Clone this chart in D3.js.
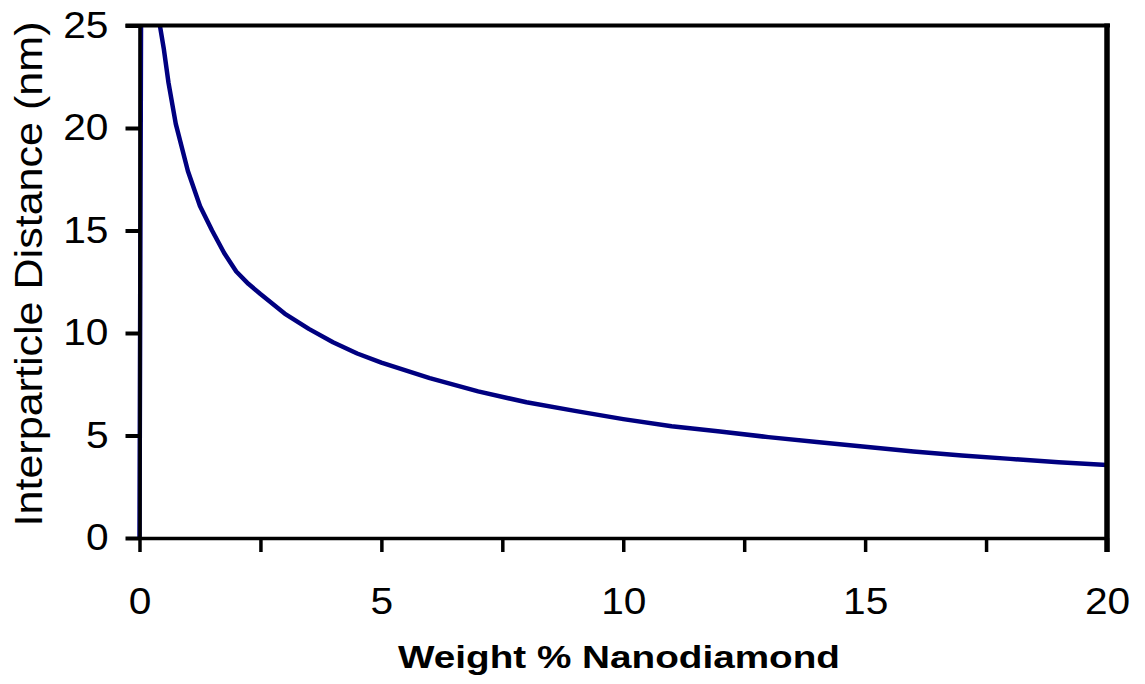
<!DOCTYPE html>
<html>
<head>
<meta charset="utf-8">
<script src="https://cdn.jsdelivr.net/npm/d3@7"></script>
<style>
  html, body { margin: 0; padding: 0; background: #fff; }
  svg { display: block; }
</style>
</head>
<body>
<svg id="chart" width="1145" height="684"></svg>
<script>
// ---- data ----
const weightPct = [0, 0.1, 0.4, 0.5, 0.6, 0.75, 1, 1.25, 1.5, 1.75, 2, 2.25, 2.5, 3, 3.5, 4, 4.5, 5, 6, 7, 8, 9, 10, 11, 12, 13, 14, 15, 16, 17, 18, 19, 20];
const distance  = [0, 80, 25.3, 23.9, 22.2, 20.2, 17.9, 16.2, 15.0, 13.9, 13.0, 12.4, 11.9, 10.95, 10.2, 9.55, 9.0, 8.55, 7.8, 7.15, 6.62, 6.2, 5.8, 5.45, 5.2, 4.92, 4.68, 4.45, 4.22, 4.02, 3.86, 3.7, 3.56];
const xTicks = [0, 2.5, 5, 7.5, 10, 12.5, 15, 17.5, 20];
const xTickLabels = ["0", "", "5", "", "10", "", "15", "", "20"];
const yTicks = [0, 5, 10, 15, 20, 25];
const yTickLabels = ["0", "5", "10", "15", "20", "25"];
const xTitle = "Weight % Nanodiamond";
const yTitle = "Interparticle Distance (nm)";

(function () {
const svg = d3.select("#chart");
const mLeft = 139.5, mRight = 1107, mTop = 25.5, mBottom = 538;

const x = d3.scaleLinear().domain([0, 20]).range([mLeft, mRight]);
const y = d3.scaleLinear().domain([0, 25]).range([mBottom, mTop]);

const font = "'Liberation Sans', Arial, sans-serif";

// clip
svg.append("defs").append("clipPath").attr("id", "plotClip")
  .append("rect").attr("x", mLeft - 3).attr("y", mTop).attr("width", mRight - mLeft + 3).attr("height", mBottom - mTop + 3);

// curve
const pts = weightPct.map((w, i) => [w, distance[i]]);
svg.append("path")
  .datum(pts)
  .attr("clip-path", "url(#plotClip)")
  .attr("fill", "none")
  .attr("stroke", "#000080")
  .attr("stroke-width", 4.5)
  .attr("stroke-linejoin", "round")
  .attr("d", d3.line().x(d => x(d[0])).y(d => y(d[1])));

function widen(sel, f) {
  sel.each(function () {
    const w = this.getComputedTextLength();
    if (w > 0) d3.select(this).attr("textLength", w * f).attr("lengthAdjust", "spacingAndGlyphs");
  });
}

// x axis
const xAxis = svg.append("g")
  .attr("transform", `translate(0,${mBottom})`)
  .call(d3.axisBottom(x).tickValues(xTicks).tickSize(14).tickSizeOuter(0).tickPadding(36)
        .tickFormat((d, i) => xTickLabels[i]));
xAxis.select(".domain").attr("stroke", "#000").attr("stroke-width", 3.5);
xAxis.selectAll(".tick line").attr("stroke", "#000").attr("stroke-width", 3.5);
xAxis.selectAll(".tick text").attr("font-family", font).attr("font-size", 37).attr("fill", "#000");
widen(xAxis.selectAll(".tick text"), 1.1);

// y axis
const yAxis = svg.append("g")
  .attr("transform", `translate(${mLeft},0)`)
  .call(d3.axisLeft(y).tickValues(yTicks).tickSize(14).tickSizeOuter(0).tickPadding(17)
        .tickFormat((d, i) => yTickLabels[i]));
yAxis.select(".domain").attr("stroke", "#000").attr("stroke-width", 3.5);
yAxis.selectAll(".tick line").attr("stroke", "#000").attr("stroke-width", 4);
yAxis.selectAll(".tick text").attr("font-family", font).attr("font-size", 37).attr("fill", "#000");
widen(yAxis.selectAll(".tick text"), 1.1);

// top and right frame
svg.append("line").attr("x1", mLeft - 14).attr("x2", mRight + 3).attr("y1", mTop).attr("y2", mTop)
  .attr("stroke", "#000").attr("stroke-width", 4);
svg.append("line").attr("x1", mRight).attr("x2", mRight).attr("y1", mTop - 2).attr("y2", mBottom + 14)
  .attr("stroke", "#000").attr("stroke-width", 5.5);

// titles
svg.append("text")
  .attr("x", 619).attr("y", 668)
  .attr("text-anchor", "middle")
  .attr("font-family", font).attr("font-weight", "bold").attr("font-size", 31)
  .attr("textLength", 442).attr("lengthAdjust", "spacingAndGlyphs")
  .text(xTitle);

svg.append("text")
  .attr("transform", "translate(42,274) rotate(-90)")
  .attr("text-anchor", "middle")
  .attr("font-family", font).attr("font-size", 38)
  .attr("textLength", 505).attr("lengthAdjust", "spacingAndGlyphs")
  .text(yTitle);
})();
</script>
</body>
</html>
